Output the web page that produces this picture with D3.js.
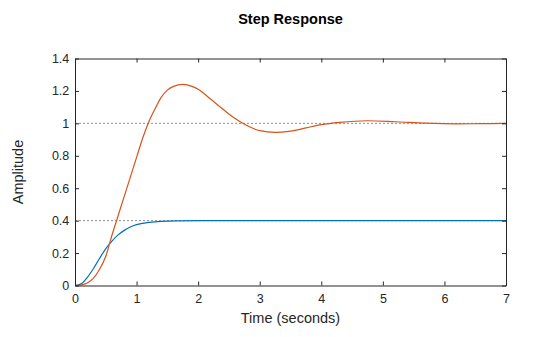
<!DOCTYPE html>
<html>
<head>
<meta charset="utf-8">
<script src="https://cdn.jsdelivr.net/npm/d3@7"></script>
<style>
  html, body { margin: 0; padding: 0; background: #fff; }
  svg { display: block; font-family: "Liberation Sans", Arial, Helvetica, sans-serif; }
</style>
</head>
<body>
<svg id="chart" width="560" height="337"></svg>
<script>
// ---- Data ----
const titleText = "Step Response";
const xLabel = "Time (seconds)";
const yLabel = "Amplitude";
const xTicks = [0, 1, 2, 3, 4, 5, 6, 7];
const yTicks = [0, 0.2, 0.4, 0.6, 0.8, 1, 1.2, 1.4];
const steadyStates = [1, 0.4];

const blueTime  = [0, 0.1, 0.2, 0.3, 0.4, 0.5, 0.6, 0.7, 0.8, 0.9, 1.0, 1.2, 1.4, 1.7, 2.0, 3.0, 4.0, 5.0, 6.0, 7.0];
const blueValue = [0, 0.01, 0.05, 0.105, 0.168, 0.228, 0.274, 0.312, 0.34, 0.361, 0.375, 0.389, 0.396, 0.399, 0.4, 0.4, 0.4, 0.4, 0.4, 0.4];

const orangeTime  = [0, 0.1, 0.2, 0.3, 0.4, 0.5, 0.6, 0.7, 0.8, 0.9, 1.0, 1.1, 1.2, 1.3, 1.4, 1.5, 1.6, 1.75, 1.9, 2.0, 2.2, 2.4, 2.6, 2.8, 3.0, 3.25, 3.5, 3.75, 4.0, 4.3, 4.75, 5.2, 5.7, 6.2, 6.6, 7.0];
const orangeValue = [0, 0.003, 0.015, 0.045, 0.10, 0.18, 0.31, 0.43, 0.55, 0.67, 0.79, 0.91, 1.01, 1.09, 1.16, 1.205, 1.228, 1.240, 1.228, 1.21, 1.15, 1.088, 1.03, 0.985, 0.955, 0.944, 0.952, 0.972, 0.992, 1.006, 1.016, 1.01, 1.001, 0.997, 0.998, 1.0];

const seriesColors = ["#0072BD", "#D95319"];

// ---- Layout ----
const svg = d3.select("#chart");
const margin = { left: 75, right: 54, top: 58.5, bottom: 51.5 };
const W = 560, H = 337;
const x = d3.scaleLinear().domain([0, 7]).range([margin.left, W - margin.right]);
const y = d3.scaleLinear().domain([0, 1.4]).range([H - margin.bottom, margin.top]);

const axisColor = "#262626";
const tickFont = 12.5;

// steady-state dotted lines
svg.append("g").selectAll("line").data(steadyStates).join("line")
  .attr("x1", x(0)).attr("x2", x(7))
  .attr("y1", d => y(d)).attr("y2", d => y(d))
  .attr("stroke", "#8c8c8c").attr("stroke-width", 1)
  .attr("stroke-dasharray", "2,2");

// series
const lineGen = d3.line().x(d => x(d[0])).y(d => y(d[1])).curve(d3.curveMonotoneX);
const series = [
  d3.zip(blueTime, blueValue),
  d3.zip(orangeTime, orangeValue)
];
svg.append("g").selectAll("path").data(series).join("path")
  .attr("d", lineGen)
  .attr("fill", "none")
  .attr("stroke", (d, i) => seriesColors[i])
  .attr("stroke-width", 1.2);

// axes
const axBottom = svg.append("g").attr("transform", `translate(0,${y(0)})`)
  .call(d3.axisBottom(x).tickValues(xTicks).tickFormat(d3.format("d")).tickSizeInner(-4).tickSizeOuter(0).tickPadding(8.3));
const axTop = svg.append("g").attr("transform", `translate(0,${y(1.4)})`)
  .call(d3.axisTop(x).tickValues(xTicks).tickFormat("").tickSizeInner(-4).tickSizeOuter(0));
const axLeft = svg.append("g").attr("transform", `translate(${x(0)},0)`)
  .call(d3.axisLeft(y).tickValues(yTicks).tickFormat(d => String(+d.toFixed(1))).tickSizeInner(-4).tickSizeOuter(0).tickPadding(5.7));
const axRight = svg.append("g").attr("transform", `translate(${x(7)},0)`)
  .call(d3.axisRight(y).tickValues(yTicks).tickFormat("").tickSizeInner(-4).tickSizeOuter(0));

[axBottom, axTop, axLeft, axRight].forEach(g => {
  g.select(".domain").attr("stroke", axisColor);
  g.selectAll(".tick line").attr("stroke", axisColor);
  g.selectAll(".tick text").attr("fill", axisColor)
    .style("font-size", tickFont + "px")
    .style("font-family", '"Liberation Sans", Arial, sans-serif');
});

// labels
svg.append("text").attr("x", (x(0) + x(7)) / 2).attr("y", 24)
  .attr("text-anchor", "middle").attr("font-weight", "bold")
  .attr("font-size", 14.5).attr("fill", "#000").text(titleText);

svg.append("text").attr("x", (x(0) + x(7)) / 2).attr("y", 323.3)
  .attr("text-anchor", "middle").attr("font-size", 14.5)
  .attr("fill", axisColor).text(xLabel);

svg.append("text")
  .attr("transform", `translate(23.2,${(y(0) + y(1.4)) / 2}) rotate(-90)`)
  .attr("text-anchor", "middle").attr("font-size", 14.5)
  .attr("fill", axisColor).text(yLabel);
</script>
</body>
</html>
